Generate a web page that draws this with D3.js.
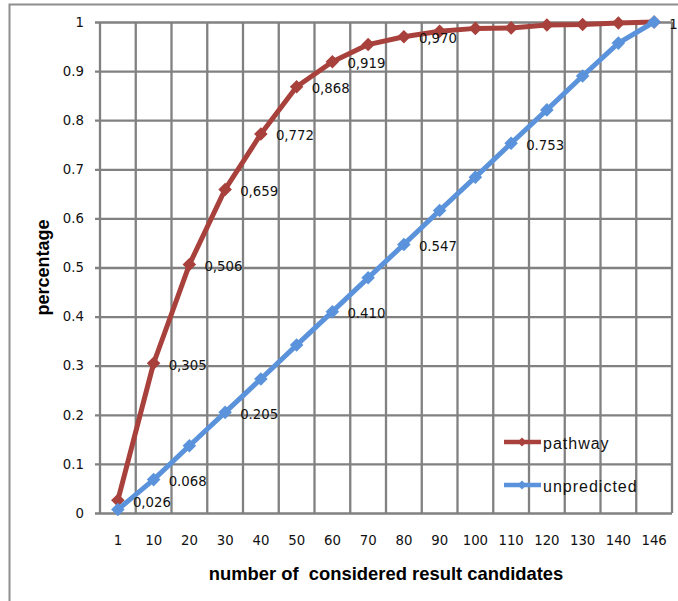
<!DOCTYPE html>
<html>
<head>
<meta charset="utf-8">
<script src="https://cdn.jsdelivr.net/npm/d3@7"></script>
<style>
  body { margin: 0; background: #fff; }
  svg { display: block; }
</style>
</head>
<body>
<figure id="chart" style="margin:0"></figure>
<script>
// values
const categories = ['1', '10', '20', '30', '40', '50', '60', '70', '80', '90', '100', '110', '120', '130', '140', '146'];
const pathway = [0.026, 0.305, 0.506, 0.659, 0.772, 0.868, 0.919, 0.954, 0.970, 0.981, 0.987, 0.988, 0.994, 0.995, 0.998, 1];
const unpredicted = [0.007, 0.068, 0.137, 0.205, 0.273, 0.342, 0.410, 0.479, 0.547, 0.616, 0.684, 0.753, 0.821, 0.890, 0.957, 1];
const pathwayLabels = ['0,026', '0,305', '0,506', '0,659', '0,772', '0,868', '0,919', '', '0,970', '', '', '', '', '', '', ''];
const unpredictedLabels = ['', '0.068', '', '0.205', '', '', '0.410', '', '0.547', '', '', '0.753', '', '', '', '1'];
const yTicks = [0, 0.1, 0.2, 0.3, 0.4, 0.5, 0.6, 0.7, 0.8, 0.9, 1];
const yTickLabels = ['0', '0.1', '0.2', '0.3', '0.4', '0.5', '0.6', '0.7', '0.8', '0.9', '1'];
const seriesNames = ['pathway', 'unpredicted'];

const W = 678, H = 601;
const plotLeft = 100, plotRight = 672, plotTop = 22, plotBottom = 513;
const colors = ['#a8413c', '#5a93db'];
const gridColor = '#818181';
const labelFont = '"DejaVu Sans", Verdana, sans-serif';
const titleFont = '"Liberation Sans", Arial, sans-serif';

const svg = d3.select('#chart').append('svg')
  .attr('width', W)
  .attr('height', H);

// outer frame (only left and top edges are visible in the crop)
svg.append('path')
  .attr('d', `M9.5,${H} V4.5 H${W}`)
  .attr('fill', 'none')
  .attr('stroke', '#8e8e8e')
  .attr('stroke-width', 2);

const x = d3.scaleBand()
  .domain(categories)
  .range([plotLeft, plotRight])
  .padding(0);

const y = d3.scaleLinear()
  .domain([0, 1])
  .range([plotBottom, plotTop]);

const cx = d => x(d) + x.bandwidth() / 2;

// vertical grid lines at band edges
const edges = categories.map(c => x(c)).concat([plotRight]);
svg.append('g')
  .selectAll('line')
  .data(edges)
  .enter()
  .append('line')
  .attr('x1', d => d).attr('x2', d => d)
  .attr('y1', plotTop).attr('y2', plotBottom)
  .attr('stroke', gridColor)
  .attr('stroke-width', 2.3);

// y axis + horizontal grid
const yAxis = svg.append('g')
  .attr('transform', `translate(${plotLeft},0)`)
  .call(d3.axisLeft(y)
    .tickValues(yTicks)
    .tickFormat((d, i) => yTickLabels[i])
    .tickSizeOuter(0)
    .tickSizeInner(5)
    .tickPadding(11));
yAxis.select('.domain').remove();
yAxis.selectAll('.tick line')
  .attr('x1', -5)
  .attr('x2', plotRight - plotLeft)
  .attr('stroke', gridColor)
  .attr('stroke-width', 2.3);
yAxis.selectAll('.tick text')
  .attr('font-family', labelFont)
  .attr('font-size', 13.3)
  .attr('fill', '#111');

// x axis labels
const xAxis = svg.append('g')
  .attr('transform', `translate(0,${plotBottom})`)
  .call(d3.axisBottom(x).tickSize(0).tickPadding(23));
xAxis.select('.domain').remove();
xAxis.selectAll('.tick text')
  .attr('font-family', labelFont)
  .attr('font-size', 13.3)
  .attr('fill', '#111');

// series
const allSeries = [pathway, unpredicted];
const line = d3.line()
  .x((d, i) => cx(categories[i]))
  .y(d => y(d));
const diamond = d3.symbol(d3.symbolSquare, 92);

allSeries.forEach((values, s) => {
  const g = svg.append('g');
  g.append('path')
    .datum(values)
    .attr('d', line)
    .attr('fill', 'none')
    .attr('stroke', colors[s])
    .attr('stroke-width', 5)
    .attr('stroke-linejoin', 'round');
  g.selectAll('path.mark')
    .data(values)
    .enter()
    .append('path')
    .attr('class', 'mark')
    .attr('d', diamond)
    .attr('transform', (d, i) => `translate(${cx(categories[i])},${y(d)}) rotate(45)`)
    .attr('fill', colors[s]);
});

// data labels
[[pathway, pathwayLabels], [unpredicted, unpredictedLabels]].forEach(([values, labels]) => {
  svg.append('g')
    .selectAll('text')
    .data(values.map((v, i) => ({ v, i, t: labels[i] })).filter(d => d.t !== ''))
    .enter()
    .append('text')
    .attr('x', d => cx(categories[d.i]) + 15)
    .attr('y', d => y(d.v) + 6.5)
    .attr('font-family', labelFont)
    .attr('font-size', 13.3)
    .attr('fill', '#111')
    .text(d => d.t);
});

// axis titles
svg.append('text')
  .attr('transform', `translate(49,${(plotTop + plotBottom) / 2}) rotate(-90)`)
  .attr('text-anchor', 'middle')
  .attr('font-family', titleFont)
  .attr('font-weight', 'bold')
  .attr('font-size', 18)
  .attr('fill', '#000')
  .text('percentage');

svg.append('text')
  .attr('x', (plotLeft + plotRight) / 2)
  .attr('y', 580)
  .attr('text-anchor', 'middle')
  .attr('font-family', titleFont)
  .attr('font-weight', 'bold')
  .attr('font-size', 18.4)
  .attr('fill', '#000')
  .style('white-space', 'pre')
  .text('number of  considered result candidates');

// legend
const legend = svg.append('g');
seriesNames.forEach((name, s) => {
  const ly = 442 + s * 43;
  legend.append('line')
    .attr('x1', 504).attr('x2', 541)
    .attr('y1', ly).attr('y2', ly)
    .attr('stroke', colors[s])
    .attr('stroke-width', 4.5);
  legend.append('path')
    .attr('d', d3.symbol(d3.symbolSquare, 40))
    .attr('transform', `translate(522,${ly}) rotate(45)`)
    .attr('fill', colors[s]);
  legend.append('text')
    .attr('x', 543)
    .attr('y', ly + 7)
    .attr('font-family', titleFont)
    .attr('font-size', 16)
    .attr('letter-spacing', 1)
    .attr('fill', '#111')
    .text(name);
});
</script>
</body>
</html>
